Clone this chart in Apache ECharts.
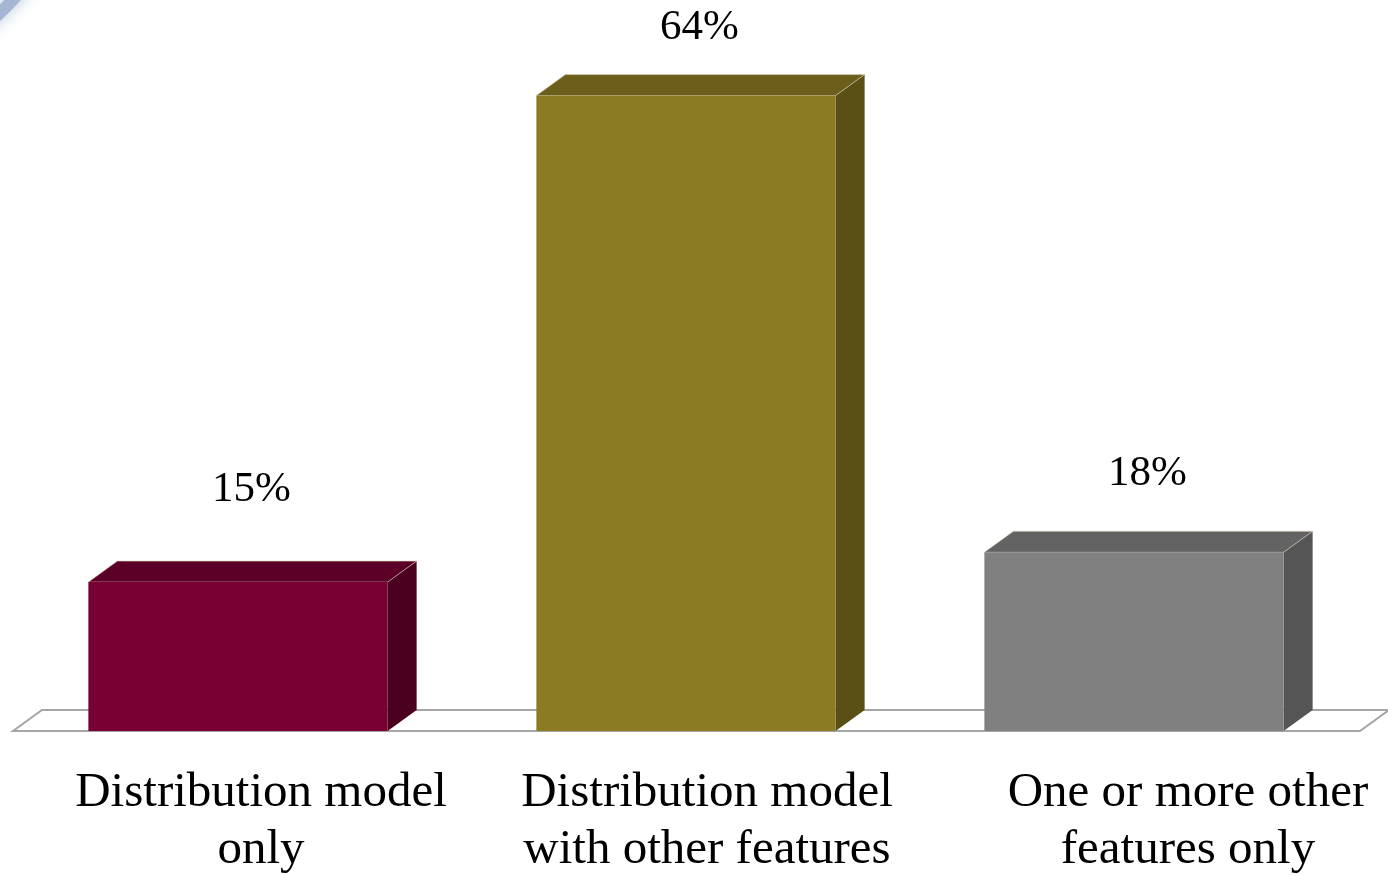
<!DOCTYPE html>
<html>
<head>
<meta charset="utf-8">
<title>Distribution model usage</title>
<script src="https://cdn.jsdelivr.net/npm/echarts@6/dist/echarts.min.js"></script>
<style>
  html, body { margin: 0; padding: 0; background: #ffffff; }
  #chart { width: 1388px; height: 875px; }
</style>
</head>
<body>
<div id="chart"></div>
<script>
// Share of respondents per feature group (percent)
const categories = [
  'Distribution model\nonly',
  'Distribution model\nwith other features',
  'One or more other\nfeatures only'
];
const values = [15, 64, 18];
const valueLabels = ['15%', '64%', '18%'];

// Face colours for each bar: front, top, side
const faceColors = [
  { front: '#780032', top: '#5d0027', side: '#4c001f' },
  { front: '#8b7c23', top: '#6b5f1b', side: '#5a4f15' },
  { front: '#808080', top: '#636363', side: '#555555' }
];
// Vertical gap between the back edge of each bar top and its value label
const labelLift = [71, 47, 58];
// Horizontal nudge (left padding) of each category label
const categoryNudge = [46, 42, 108];

const DEPTH_X = 29;
const DEPTH_Y = -21;
const BAR_RATIO = 0.668;
const SERIF = '"Liberation Serif", "Times New Roman", serif';

const chart = echarts.init(document.getElementById('chart'), null, { renderer: 'canvas' });

function renderFloor(params, api) {
  const cs = params.coordSys;
  const x0 = cs.x, x1 = cs.x + cs.width;
  const y = cs.y + cs.height;
  return {
    type: 'polygon',
    shape: {
      points: [
        [x0 - 1, y],
        [x1 + 2, y],
        [x1 + 2 + DEPTH_X, y + DEPTH_Y],
        [x0 - 1 + DEPTH_X, y + DEPTH_Y]
      ]
    },
    style: { fill: '#ffffff', stroke: '#a6a6a6', lineWidth: 2 },
    z2: 0
  };
}

function renderBar(params, api) {
  const idx = params.dataIndex;
  const top = api.coord([api.value(0), api.value(1)]);
  const base = api.coord([api.value(0), 0]);
  const w = api.size([1, 0])[0] * BAR_RATIO;
  const xl = top[0] - w / 2, xr = top[0] + w / 2;
  const yt = top[1], yb = base[1];
  const c = faceColors[idx];
  return {
    type: 'group',
    children: [
      {
        type: 'polygon',
        shape: { points: [[xr, yt], [xr + DEPTH_X, yt + DEPTH_Y], [xr + DEPTH_X, yb + DEPTH_Y], [xr, yb]] },
        style: { fill: c.side }
      },
      {
        type: 'polygon',
        shape: { points: [[xl, yt], [xl + DEPTH_X, yt + DEPTH_Y], [xr + DEPTH_X, yt + DEPTH_Y], [xr, yt]] },
        style: { fill: c.top, stroke: 'rgba(220,210,190,0.6)', lineWidth: 1 }
      },
      {
        type: 'rect',
        shape: { x: xl, y: yt, width: w, height: yb - yt },
        style: { fill: c.front }
      },
      {
        type: 'text',
        x: top[0] + DEPTH_X / 2 - 1,
        y: yt + DEPTH_Y - labelLift[idx],
        style: {
          text: valueLabels[idx],
          font: '43px ' + SERIF,
          fill: '#000000',
          align: 'center',
          verticalAlign: 'middle'
        }
      }
    ]
  };
}

const option = {
  backgroundColor: '#ffffff',
  animation: false,
  graphic: [
    {
      // soft blue corner arc of the slide frame
      type: 'arc',
      x: -200, y: -200,
      shape: { cx: 0, cy: 0, r: 292, startAngle: 0, endAngle: Math.PI / 2 },
      style: { stroke: '#a4b6d4', lineWidth: 12, fill: null, shadowBlur: 16, shadowColor: '#b4c4de' },
      silent: true,
      z: 100
    }
  ],
  grid: { left: 14, right: 30, top: 36, bottom: 144, containLabel: false, outerBoundsMode: 'none' },
  xAxis: {
    type: 'category',
    data: categories.map((c, i) => ({ value: c, textStyle: { padding: [0, 0, 0, categoryNudge[i]] } })),
    axisLine: { show: false },
    axisTick: { show: false },
    axisLabel: {
      interval: 0,
      margin: 34,
      color: '#000000',
      fontFamily: SERIF,
      fontSize: 49,
      lineHeight: 57
    }
  },
  yAxis: {
    type: 'value',
    min: 0,
    max: 70,
    show: false,
    splitLine: { show: false }
  },
  series: [
    {
      type: 'custom',
      renderItem: renderFloor,
      data: [[0, 0]],
      silent: true,
      z: 1
    },
    {
      type: 'custom',
      renderItem: renderBar,
      data: values.map((v, i) => [i, v]),
      silent: true,
      z: 2
    }
  ]
};

chart.setOption(option);
</script>
</body>
</html>
